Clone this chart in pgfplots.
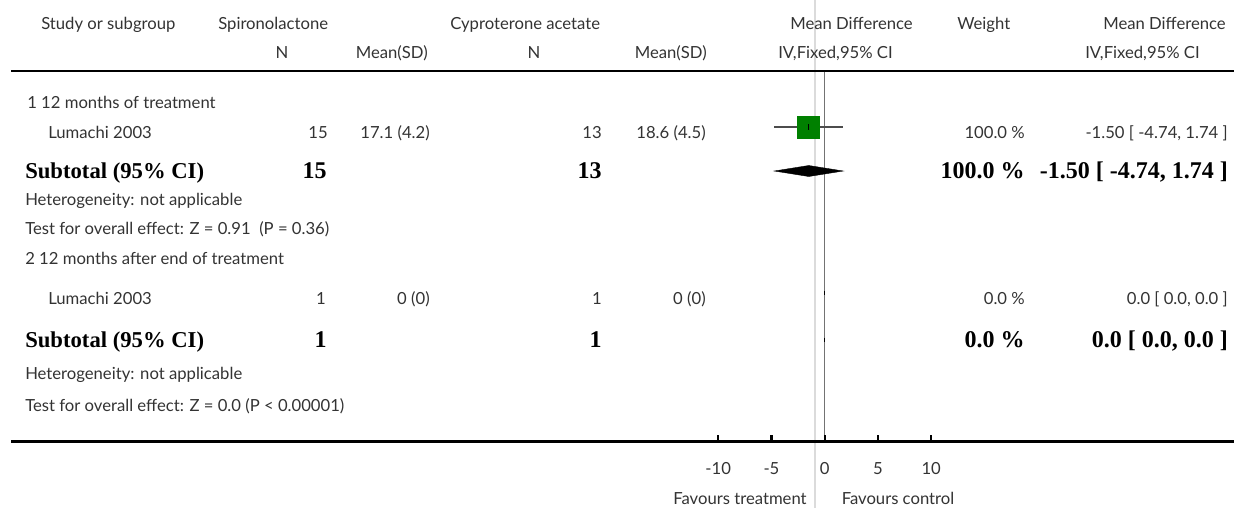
\documentclass[border=0pt]{standalone}
\usepackage{fontspec}
\setmainfont{Liberation Serif}
\newfontfamily\gs{Lato}
\usepackage{pgfplots}
\pgfplotsset{compat=1.18}
\definecolor{txt}{HTML}{333333}
\definecolor{sqgreen}{RGB}{0,128,0}
\begin{document}
\begin{tikzpicture}[x=0.75pt,y=-0.75pt,
 t/.style={font=\gs\fontsize{12.5}{14}\selectfont, text=txt, inner sep=0pt},
 b/.style={font=\bfseries\fontsize{17}{20}\selectfont, text=black, inner sep=0pt},
 bn/.style={font=\bfseries\fontsize{18}{21}\selectfont, text=black, inner sep=0pt}]
\useasboundingbox (0,0) rectangle (1234,508);
\draw[line width=1.6pt, black!14] (815,0) -- (815,508);
\draw[line width=2.2pt] (11,71) -- (1234,71);
\draw[line width=2.2pt] (11,441.5) -- (1234,441.5);
\begin{axis}[at={(0,0)}, anchor=north west, width=925.5pt, height=381pt, scale only axis,
  xmin=-77.437, xmax=38.432, ymin=0, ymax=508, y dir=reverse,
  axis lines=none, xtick=\empty, ytick=\empty, clip=false]
% line of no effect
\addplot[black!55, line width=0.9pt] coordinates {(0,72) (0,441)};
% study 1: CI and square
\addplot[black!70, line width=0.9pt] coordinates {(-4.74,127) (1.74,127)};
\addplot[only marks, mark=square*, mark size=8.25pt, mark options={fill=sqgreen, draw=sqgreen}] coordinates {(-1.5,127)};
\addplot[only marks, mark=|, mark size=2.2pt, mark options={black, line width=0.6pt}] coordinates {(-1.5,127)};
% subtotal 1 diamond
\addplot[fill=black, draw=black, line width=0.3pt] coordinates {(-4.74,171) (-1.5,165.5) (1.74,171) (-1.5,176.5)} -- cycle;
% study 2 and subtotal 2 (zero width)
\addplot[only marks, mark=|, mark size=1.8pt, mark options={black, line width=1.1pt}] coordinates {(0,293) (0,340)};
% axis ticks
\pgfplotsinvokeforeach{-10,-5,0,5,10}{
  \draw[line width=1.6pt] (axis cs:#1,441) -- (axis cs:#1,434.5);
  \node[t, anchor=base] at (axis cs:#1,474) {#1};
}
\end{axis}
% headers
\node[t, anchor=base west] at (41,29) {Study or subgroup};
\node[t, anchor=base west] at (218,29) {Spironolactone};
\node[t, anchor=base west] at (450,29) {Cyproterone acetate};
\node[t, anchor=base east] at (913,29) {Mean Difference};
\node[t, anchor=base west] at (957,29) {Weight};
\node[t, anchor=base east] at (1226,29) {Mean Difference};
\node[t, anchor=base] at (282,58) {N};
\node[t, anchor=base east] at (428,58) {Mean(SD)};
\node[t, anchor=base] at (534,58) {N};
\node[t, anchor=base east] at (707,58) {Mean(SD)};
\node[t, anchor=base west] at (778,58) {IV,Fixed,95\% CI};
\node[t, anchor=base east] at (1200,58) {IV,Fixed,95\% CI};
% group 1
\node[t, anchor=base west] at (27,108) {1 12 months of treatment};
\node[t, anchor=base west] at (48,138) {Lumachi 2003};
\node[t, anchor=base east] at (328,138) {15};
\node[t, anchor=base east] at (430,138) {17.1 (4.2)};
\node[t, anchor=base east] at (602,138) {13};
\node[t, anchor=base east] at (706,138) {18.6 (4.5)};
\node[t, anchor=base east] at (1025,138) {100.0 \%};
\node[t, anchor=base east] at (1228,138) {-1.50 [ -4.74, 1.74 ]};
\node[b, anchor=base west] at (25,178) {Subtotal (95\% CI)};
\node[bn, anchor=base east] at (327,178) {15};
\node[bn, anchor=base east] at (602,178) {13};
\node[bn, anchor=base east] at (1025,178) {100.0 \%};
\node[bn, anchor=base east] at (1228,178) {-1.50 [ -4.74, 1.74 ]};
\node[t, anchor=base west] at (25,205) {Heterogeneity: not applicable};
\node[t, anchor=base west] at (25,234) {Test for overall effect: Z = 0.91\ \ (P = 0.36)};
% group 2
\node[t, anchor=base west] at (25,264) {2 12 months after end of treatment};
\node[t, anchor=base west] at (48,304) {Lumachi 2003};
\node[t, anchor=base east] at (326,304) {1};
\node[t, anchor=base east] at (430,304) {0 (0)};
\node[t, anchor=base east] at (602,304) {1};
\node[t, anchor=base east] at (706,304) {0 (0)};
\node[t, anchor=base east] at (1025,304) {0.0 \%};
\node[t, anchor=base east] at (1228,304) {0.0 [ 0.0, 0.0 ]};
\node[b, anchor=base west] at (25,347) {Subtotal (95\% CI)};
\node[bn, anchor=base east] at (327,347) {1};
\node[bn, anchor=base east] at (602,347) {1};
\node[bn, anchor=base east] at (1025,347) {0.0 \%};
\node[bn, anchor=base east] at (1228,347) {0.0 [ 0.0, 0.0 ]};
\node[t, anchor=base west] at (25,379) {Heterogeneity: not applicable};
\node[t, anchor=base west] at (25,411) {Test for overall effect: Z = 0.0 (P < 0.00001)};
% favours
\node[t, anchor=base] at (740,504) {Favours treatment};
\node[t, anchor=base] at (898,504) {Favours control};
\end{tikzpicture}
\end{document}
